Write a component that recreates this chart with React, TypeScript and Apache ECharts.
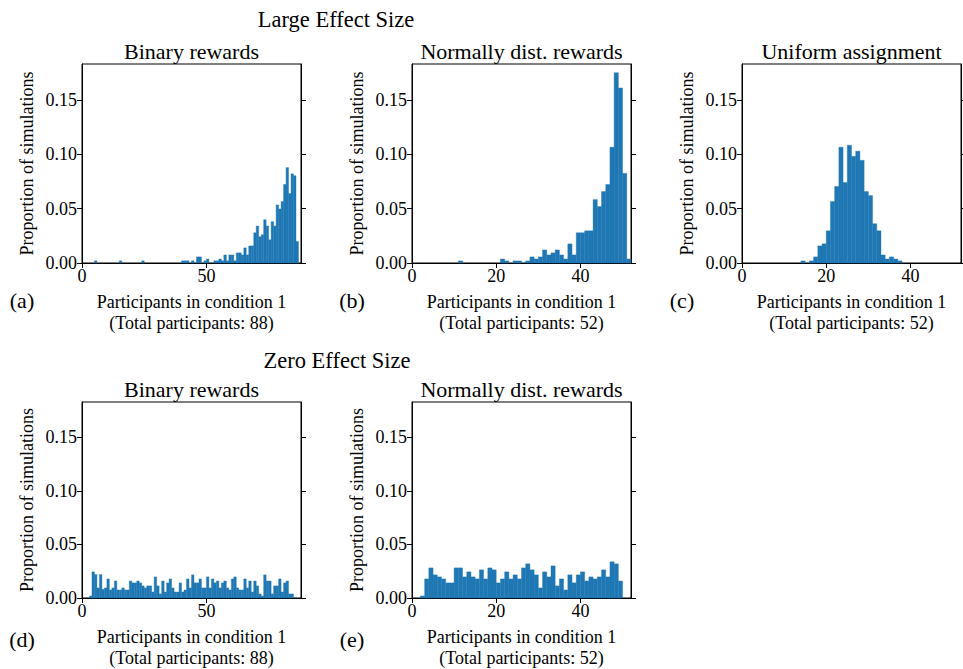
import React, { useEffect, useRef } from 'react'
import * as echarts from 'echarts'

const BAR_COLOR = '#1f77b4'
const FONT = 'Liberation Serif, Times New Roman, serif'

// shared y ticks
const yTicks = [0, 0.05, 0.1, 0.15]
const yMax = 0.183

// (a) large effect, binary rewards, 88 participants; bins start at 5
const largeBinaryStart = 5
const largeBinary = [
  0.002, 0, 0, 0, 0, 0, 0, 0, 0, 0, 0.002, 0, 0, 0, 0, 0, 0, 0, 0, 0.002,
  0, 0, 0, 0, 0, 0, 0, 0, 0, 0, 0, 0, 0, 0, 0,
  0.002, 0.002, 0.002, 0, 0.002, 0, 0.0056, 0.0056, 0, 0.002, 0.0037, 0, 0,
  0.002, 0.002, 0.0037, 0.002, 0.0074, 0.002, 0.0074, 0.0074, 0.002, 0.0093,
  0.0093, 0.0074, 0.0139, 0.0074, 0.0157, 0.0157, 0.0278, 0.034, 0.0241,
  0.026, 0.0398, 0.034, 0.0213, 0.038, 0.034, 0.0534, 0.0497, 0.0565, 0.0722,
  0.0877, 0.0639, 0.082, 0.0802, 0.0198,
]

// (b) large effect, normally distributed rewards, 52 participants; bins start at 11
const largeNormalStart = 11
const largeNormal = [
  0.0019, 0, 0, 0, 0, 0, 0, 0, 0, 0, 0.0037, 0.0019, 0, 0.0019, 0.0019, 0,
  0.0019, 0.0056, 0.0037, 0.0056, 0.012, 0.0074, 0.0093, 0.012, 0.0074,
  0.0037, 0.0176, 0.0074, 0.0278, 0.0278, 0.0296, 0.0296, 0.0583, 0.0519,
  0.0657, 0.0722, 0.1065, 0.175, 0.161, 0.0824, 0.0037,
]

// (c) uniform assignment, 52 participants; bins start at 14
const uniformStart = 14
const uniform = [
  0.0019, 0, 0.0019, 0.0056, 0.0157, 0.0176, 0.0296, 0.0565, 0.0704, 0.1065,
  0.074, 0.1083, 0.0981, 0.1028, 0.0944, 0.0657, 0.062, 0.0361, 0.0296,
  0.0074, 0.0037, 0.0056, 0.0037, 0.0019,
]

// (d) zero effect, binary rewards, 88 participants; bins start at 3
const zeroBinaryStart = 3
const zeroBinary = [
  0.0019, 0.0244, 0.0219, 0.0094, 0.0219, 0.0081, 0.0094, 0.0178, 0.0075,
  0.0094, 0.0159, 0.0075, 0.0075, 0.0094, 0.0075, 0.0075, 0.0159, 0.0141,
  0.0141, 0.0159, 0.0141, 0.0113, 0.0094, 0.0113, 0.0113, 0.0056, 0.0197,
  0.0113, 0.0038, 0.0159, 0.0056, 0.0141, 0.0178, 0.0094, 0.0056, 0.0056,
  0.0141, 0.0056, 0.0075, 0.0178, 0.0094, 0.0216, 0.0141, 0.0141, 0.0178,
  0.0094, 0.0094, 0.0197, 0.0094, 0.0178, 0.0141, 0.0159, 0.0094, 0.0141,
  0.0159, 0.0094, 0.0075, 0.0178, 0.0197, 0.0094, 0.0075, 0.0075, 0.0178,
  0.0094, 0.0159, 0.0056, 0.0159, 0.0113, 0.0038, 0.0019, 0.0216, 0.0159,
  0.0159, 0.0038, 0.0113, 0.0113, 0.0178, 0.0056, 0.0141, 0.0159, 0.0038,
  0.0038,
]

// (e) zero effect, normally distributed rewards, 52 participants; bins start at 2
const zeroNormalStart = 2
const zeroNormal = [
  0.0019, 0.0178, 0.0281, 0.0216, 0.0197, 0.0178, 0.0141, 0.0141, 0.0281,
  0.0281, 0.0197, 0.0244, 0.0197, 0.0178, 0.0263, 0.0178, 0.0281, 0.0263,
  0.0141, 0.0178, 0.0244, 0.0178, 0.0216, 0.0178, 0.0281, 0.0319, 0.0263,
  0.0216, 0.0094, 0.0244, 0.0197, 0.03, 0.0113, 0.0178, 0.0075, 0.0216,
  0.0141, 0.0216, 0.0244, 0.0159, 0.0197, 0.0178, 0.0197, 0.0263, 0.0197,
  0.0338, 0.0319, 0.0159,
]

const panels = [
  { title: 'Binary rewards', tag: '(a)', total: 88, xTicks: [0, 50], start: largeBinaryStart, values: largeBinary },
  { title: 'Normally dist. rewards', tag: '(b)', total: 52, xTicks: [0, 20, 40], start: largeNormalStart, values: largeNormal },
  { title: 'Uniform assignment', tag: '(c)', total: 52, xTicks: [0, 20, 40], start: uniformStart, values: uniform },
  { title: 'Binary rewards', tag: '(d)', total: 88, xTicks: [0, 50], start: zeroBinaryStart, values: zeroBinary },
  { title: 'Normally dist. rewards', tag: '(e)', total: 52, xTicks: [0, 20, 40], start: zeroNormalStart, values: zeroNormal },
]

const grids = [
  { left: 82, top: 64, width: 219, height: 199 },
  { left: 412, top: 64, width: 219, height: 199 },
  { left: 742, top: 64, width: 219, height: 199 },
  { left: 82, top: 402, width: 219, height: 200 },
  { left: 412, top: 402, width: 219, height: 200 },
]

const axisLine = { show: true, lineStyle: { color: '#000', width: 1 } }

export default function App() {
  const ref = useRef<HTMLDivElement>(null)

  useEffect(() => {
    if (!ref.current) return
    document.body.style.margin = '0'
    const chart = echarts.init(ref.current, null, { renderer: 'svg' })

    const xAxis = panels.map((p, i) => ({
      type: 'value',
      gridIndex: i,
      min: 0,
      max: p.total,
      name: `Participants in condition 1\n(Total participants: ${p.total})`,
      nameLocation: 'middle',
      nameGap: 28,
      nameTextStyle: { fontFamily: FONT, fontSize: 18, color: '#000', lineHeight: 21 },
      axisLine,
      axisTick: { show: true, length: 5, customValues: p.xTicks, lineStyle: { color: '#000' } },
      axisLabel: { customValues: p.xTicks, margin: 4, fontFamily: FONT, fontSize: 18, color: '#000' },
      splitLine: { show: false },
    }))

    const leftY = panels.map((_, i) => ({
      type: 'value',
      gridIndex: i,
      min: 0,
      max: yMax,
      name: 'Proportion of simulations',
      nameLocation: 'middle',
      nameGap: 46,
      nameTextStyle: { fontFamily: FONT, fontSize: 18, color: '#000' },
      axisLine,
      axisTick: { show: true, length: 5, customValues: yTicks, lineStyle: { color: '#000' } },
      axisLabel: {
        customValues: yTicks,
        margin: 5,
        fontFamily: FONT,
        fontSize: 18,
        color: '#000',
        formatter: (v: number) => v.toFixed(2),
      },
      splitLine: { show: false },
    }))

    // mirrored ticks on the right spine
    const rightY = panels.map((_, i) => ({
      type: 'value',
      gridIndex: i,
      position: 'right',
      min: 0,
      max: yMax,
      axisLine,
      axisTick: { show: true, length: 5, customValues: yTicks, lineStyle: { color: '#000' } },
      axisLabel: { show: false },
      splitLine: { show: false },
    }))

    const series = panels.map((p, i) => ({
      type: 'custom',
      xAxisIndex: i,
      yAxisIndex: i,
      encode: { x: [0, 1], y: 2 },
      data: p.values
        .map((v, k) => [p.start + k, p.start + k + 1, v])
        .filter(d => d[2] > 0),
      renderItem: (_params: unknown, api: any) => {
        const a = api.coord([api.value(0), api.value(2)])
        const b = api.coord([api.value(1), 0])
        return {
          type: 'rect',
          shape: { x: a[0], y: a[1], width: b[0] - a[0], height: b[1] - a[1] },
          style: { fill: BAR_COLOR, stroke: BAR_COLOR, lineWidth: 0.4 },
        }
      },
    }))

    const text = (str: string, x: number, y: number, size: number) => ({
      type: 'text',
      x,
      y,
      style: {
        text: str,
        fontFamily: FONT,
        fontSize: size,
        fill: '#000',
        textAlign: 'center',
        textVerticalAlign: 'middle',
      },
    })

    const graphics = [
      text('Large Effect Size', 336, 19, 22.5),
      text('Zero Effect Size', 337, 360, 22.5),
      ...panels.map((p, i) => text(p.title, grids[i].left + grids[i].width / 2, grids[i].top - 13, 22)),
      ...panels.map((p, i) => text(p.tag, grids[i].left - 60, grids[i].top + grids[i].height + 37, 22)),
    ]

    chart.setOption({
      animation: false,
      textStyle: { fontFamily: FONT, color: '#000' },
      grid: grids.map(g => ({ ...g, show: true, borderColor: '#000', borderWidth: 1, backgroundColor: 'transparent' })),
      xAxis,
      yAxis: [...leftY, ...rightY],
      series,
      graphic: graphics,
    })

    return () => {
      chart.dispose()
    }
  }, [])

  return <div ref={ref} style={{ width: 963, height: 669 }} />
}
